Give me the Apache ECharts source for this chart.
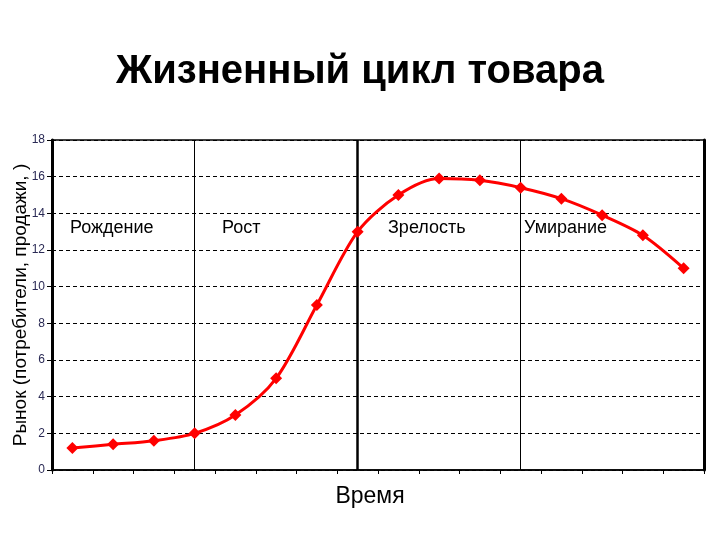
<!DOCTYPE html>
<html>
<head>
<meta charset="utf-8">
<script src="https://cdn.jsdelivr.net/npm/echarts@6/dist/echarts.min.js"></script>
<style>html,body{margin:0;padding:0;background:#fff;}#c{width:720px;height:540px;}</style>
</head>
<body>
<div id="c"></div>
<script>
const titleText = 'Жизненный цикл товара';
const xName = 'Время';
const yName = 'Рынок (потребители, продажи, )';
const categories = ['1','2','3','4','5','6','7','8','9','10','11','12','13','14','15','16'];
const values = [1.2, 1.4, 1.6, 2.0, 3.0, 5.0, 9.0, 13.0, 15.0, 15.9, 15.8, 15.4, 14.8, 13.9, 12.8, 11.0];
const phaseNames = ['Рождение', 'Рост', 'Зрелость', 'Умирание'];
const phaseLines = ['4', '8', '12'];
const yTicks = {min: 0, max: 18, interval: 2};

const chart = echarts.init(document.getElementById('c'));
const phaseX = [70, 222, 388, 524];
chart.setOption({
  backgroundColor: '#fff',
  animation: false,
  title: {
    text: titleText, left: 'center', top: 47,
    textStyle: {fontFamily: 'Liberation Sans', fontWeight: 'bold', fontSize: 40, color: '#000'}
  },
  grid: {left: 52, right: 16, top: 140, bottom: 70, show: true, borderColor: '#000', borderWidth: 1.5, containLabel: false, outerBoundsMode: 'none'},
  graphic: phaseNames.map((t, i) => ({
    type: 'text', left: phaseX[i], top: 219,
    style: {text: t, font: '18px "Liberation Sans"', fill: '#000'}
  })),
  xAxis: [{
    type: 'category', data: categories, boundaryGap: true,
    name: xName, nameLocation: 'middle', nameGap: 15,
    nameTextStyle: {fontFamily: 'Liberation Sans', fontSize: 23, color: '#000', padding: [0, 16, 0, 0]},
    axisLine: {lineStyle: {color: '#000', width: 1.5}},
    axisTick: {show: true, interval: 0, length: 4, lineStyle: {color: '#000'}},
    axisLabel: {show: false},
    splitLine: {show: false}
  }],
  yAxis: [{
    type: 'value', min: yTicks.min, max: yTicks.max, interval: yTicks.interval,
    name: yName, nameLocation: 'middle', nameGap: 22, nameRotate: 90, nameMoveOverlap: false,
    nameTextStyle: {fontFamily: 'Liberation Sans', fontSize: 19, color: '#000'},
    axisLine: {show: true, lineStyle: {color: '#000', width: 3}},
    axisTick: {show: true, length: 5, lineStyle: {color: '#000'}},
    axisLabel: {fontFamily: 'Liberation Sans', fontSize: 12, color: '#2a2a55', margin: 7},
    splitLine: {show: true, lineStyle: {color: '#000', type: [4, 3], width: 1}}
  }, {
    type: 'value', position: 'right', min: yTicks.min, max: yTicks.max, interval: yTicks.interval,
    axisLine: {show: true, lineStyle: {color: '#000', width: 3}},
    axisTick: {show: false}, axisLabel: {show: false}, splitLine: {show: false}
  }],
  series: [{
    type: 'line', data: values, smooth: 0.3,
    symbol: 'diamond', symbolSize: 12,
    lineStyle: {color: '#ff0000', width: 3},
    itemStyle: {color: '#ff0000'},
    z: 5,
    markLine: {
      silent: true, symbol: 'none', label: {show: false},
      data: phaseLines.map((c, i) => ({xAxis: c, lineStyle: {color: '#000', type: 'solid', width: i === 1 ? 2.5 : 1}}))
    }
  }]
});
</script>
</body>
</html>
